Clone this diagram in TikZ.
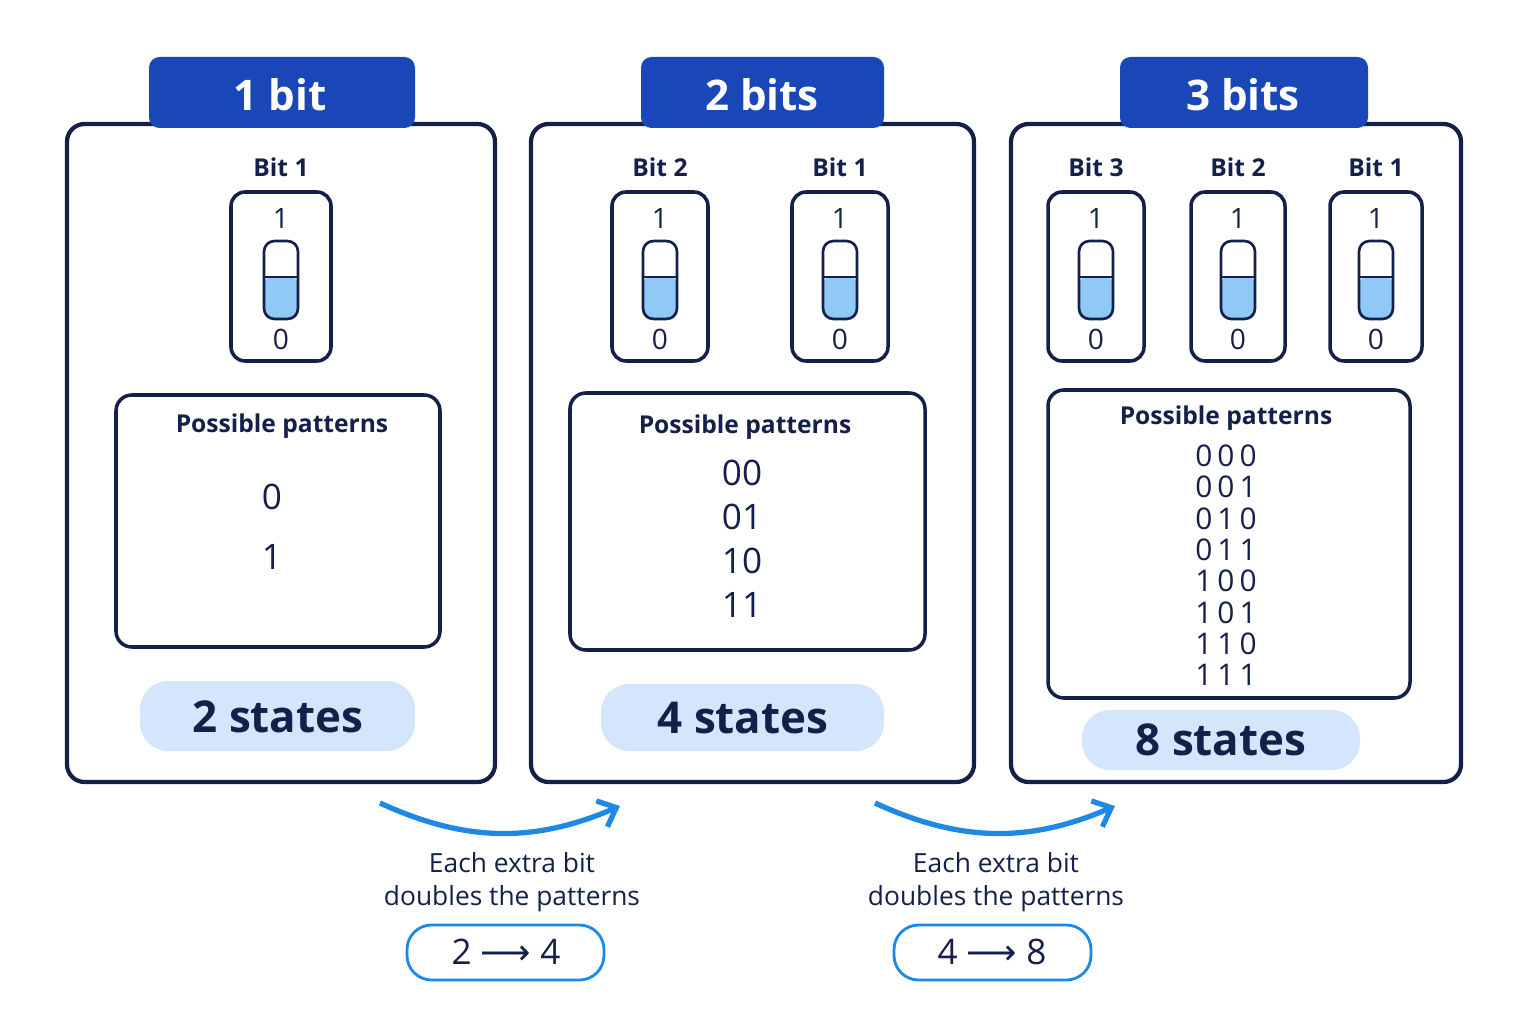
\documentclass[tikz,border=0pt]{standalone}
\usepackage{fontspec}
\setmainfont{Open Sans}
\newfontfamily\arrfont{DejaVu Sans}
\usetikzlibrary{arrows.meta}
\definecolor{navy}{HTML}{14204A}
\definecolor{tabblue}{HTML}{1A47B8}
\definecolor{pillblue}{HTML}{D4E6FB}
\definecolor{togblue}{HTML}{90C8F6}
\definecolor{arrblue}{HTML}{1E88E5}
\tikzset{
  panel/.style={draw=navy,line width=2.4pt,rounded corners=10pt},
  tab/.style={fill=tabblue,rounded corners=6pt},
  swbox/.style={draw=navy,line width=2pt,rounded corners=8pt,fill=white},
  pat/.style={draw=navy,line width=2pt,rounded corners=9pt},
  pill/.style={fill=pillblue,rounded corners=16pt},
  ratio/.style={draw=arrblue,line width=1.6pt,rounded corners=14pt},
  lbl/.style={text=navy,font=\fontsize{14}{16}\selectfont\bfseries},
  dig/.style={text=navy,font=\fontsize{16}{18}\selectfont},
}
\begin{document}
\begin{tikzpicture}[x=0.02cm,y=-0.02cm]
\useasboundingbox (0,0) rectangle (1536,1024);
% panels
\draw[panel] (67,124) rectangle (495,782);
\draw[panel] (531,124) rectangle (974,782);
\draw[panel] (1011,124) rectangle (1461,782);
\fill[tab] (149,57) rectangle (415,128);
\fill[tab] (641,57) rectangle (884,128);
\fill[tab] (1120,57) rectangle (1368,128);
\node[text=white,font=\fontsize{24}{28}\selectfont\bfseries] (t1) at (280,95) {1 bit};
\node[text=white,font=\fontsize{24}{28}\selectfont\bfseries] (t2) at (762,95) {2 bits};
\node[text=white,font=\fontsize{24}{28}\selectfont\bfseries] (t3) at (1243,95) {3 bits};
% switches
\foreach \cx/\w/\n in {281/50/1,660/48/2,840/48/1,1096/48/3,1238/47/2,1376/46/1}{
  \draw[swbox] (\cx-\w,192) rectangle (\cx+\w,361);
  \node[lbl] at (\cx,167) {Bit \n};
  \node[dig] at (\cx,218) {1};
  \node[dig] at (\cx,339) {0};
  \fill[togblue,rounded corners=4pt] (\cx-17,277) rectangle (\cx+17,319);
  \draw[navy,line width=1.5pt,rounded corners=6pt] (\cx-17,241) rectangle (\cx+17,319);
  \draw[navy,line width=1.2pt] (\cx-17,277) -- (\cx+17,277);
}
% patterns
\draw[pat] (116,395) rectangle (440,647);
\node[lbl] at (282,426) {Possible patterns};
\node[dig,font=\fontsize{20}{22}\selectfont] at (272,497) {0};
\node[dig,font=\fontsize{20}{22}\selectfont] at (272,557) {1};
\draw[pat] (570,393) rectangle (925,650);
\node[lbl] at (745,427) {Possible patterns};
\foreach \p [count=\i] in {00,01,10,11}
  \node[dig,font=\fontsize{20}{22}\selectfont] at (742,473+44*\i-44) {\p};
\draw[pat] (1048,390) rectangle (1410,698);
\node[lbl] at (1226,418) {Possible patterns};
\foreach \p [count=\i] in {0\,0\,0,0\,0\,1,0\,1\,0,0\,1\,1,1\,0\,0,1\,0\,1,1\,1\,0,1\,1\,1}
  \node[dig,font=\fontsize{17}{19}\selectfont] at (1226,456+31.3*\i-31.3) {\p};
% states
\fill[pill] (140,681) rectangle (415,751);
\node[text=navy,font=\fontsize{25}{30}\selectfont\bfseries] (s1) at (278,717) {2 states};
\fill[pill] (601,684) rectangle (884,751);
\node[text=navy,font=\fontsize{25}{30}\selectfont\bfseries] (s2) at (743,718) {4 states};
\fill[pill] (1082,710) rectangle (1360,770);
\node[text=navy,font=\fontsize{25}{30}\selectfont\bfseries] (s3) at (1221,740) {8 states};
% doubling arrows
\coordinate (a1s) at (380,803);
\coordinate (a1e) at (620,806);
\coordinate (a2s) at (875,803);
\coordinate (a2e) at (1115,806);
\draw[arrblue,line width=3pt,-{Straight Barb[length=9pt,width=16pt]}] (a1s) to[bend right=24] (a1e);
\draw[arrblue,line width=3pt,-{Straight Barb[length=9pt,width=16pt]}] (a2s) to[bend right=24] (a2e);
\node[dig,align=center,font=\fontsize{15}{19}\selectfont] (c1) at (512,882) {Each extra bit\\doubles the patterns};
\node[dig,align=center,font=\fontsize{15}{19}\selectfont] (c2) at (996,882) {Each extra bit\\doubles the patterns};
\draw[ratio] (407,925) rectangle (604,980);
\node[dig,font=\fontsize{20}{22}\selectfont] (r1) at (506,952) {2 {\arrfont⟶} 4};
\draw[ratio] (894,925) rectangle (1091,980);
\node[dig,font=\fontsize{20}{22}\selectfont] (r2) at (992,952) {4 {\arrfont⟶} 8};
\end{tikzpicture}
\end{document}
